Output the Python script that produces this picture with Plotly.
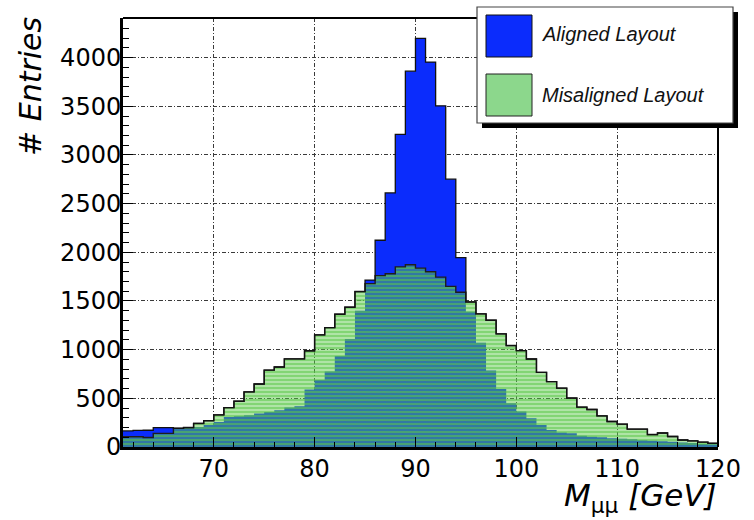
import plotly.graph_objects as go

# Dimuon invariant mass, 1 GeV bins between 61 and 120 GeV
bin_edges = list(range(61, 121))

aligned = [165, 170, 172, 200, 200, 185, 195, 205, 225, 257,
           308, 315, 326, 343, 360, 377, 405, 418, 590, 688,
           775, 935, 1110, 1400, 1715, 2124, 2610, 3211, 3861, 4197,
           3954, 3505, 2751, 1946, 1390, 1070, 785, 595, 450, 365,
           295, 225, 175, 150, 140, 115, 105, 100, 90, 85,
           80, 70, 65, 60, 55, 45, 40, 32, 28]

misaligned = [105, 105, 98, 140, 140, 192, 200, 242, 270, 330,
              404, 470, 566, 647, 790, 822, 905, 905, 988, 1152,
              1226, 1364, 1436, 1597, 1678, 1760, 1780, 1850, 1872, 1838,
              1800, 1745, 1650, 1590, 1490, 1368, 1302, 1162, 1042, 990,
              904, 767, 672, 605, 503, 410, 385, 320, 262, 235,
              184, 184, 128, 144, 108, 72, 63, 50, 38]

x_ticks = [70, 80, 90, 100, 110, 120]
y_ticks = [0, 500, 1000, 1500, 2000, 2500, 3000, 3500, 4000]
legend_labels = ["Aligned Layout", "Misaligned Layout"]

BLUE = "#0b2cfc"
GREEN = "rgb(90,200,72)"
LIGHT_GREEN = "rgb(140,215,140)"

W, H = 754, 520
L, R, T, B = 123, 36, 18, 73
PW, PH = W - L - R, H - T - B


def px(xp):
    return (xp - L) / PW


def py(yp):
    return (T + PH - yp) / PH


def steps(vals):
    return vals + [vals[-1]]


envelope = [max(a, m) for a, m in zip(aligned, misaligned)]

fig = go.Figure()

# aligned histogram: solid blue
fig.add_trace(go.Scatter(
    x=bin_edges, y=steps(aligned), mode="lines",
    line=dict(shape="hv", width=0, color=BLUE),
    fill="tozeroy", fillcolor=BLUE, hoverinfo="skip", showlegend=False))

# misaligned histogram: fine green stipple drawn over the blue
fig.add_trace(go.Scatter(
    x=bin_edges, y=steps(misaligned), mode="lines",
    line=dict(shape="hv", width=1.4, color="#1e1e1e"),
    fill="tozeroy", fillcolor="rgba(0,0,0,0)",
    fillpattern=dict(shape="-", fgcolor=GREEN, fgopacity=0.76,
                     bgcolor="rgba(0,0,0,0)", size=4, solidity=0.82),
    hoverinfo="skip", showlegend=False))

# outer outline of both histograms
fig.add_trace(go.Scatter(
    x=bin_edges, y=steps(envelope), mode="lines",
    line=dict(shape="hv", width=1.3, color="#111111"),
    hoverinfo="skip", showlegend=False))

grid = dict(showgrid=True, gridcolor="#3a3a3a", gridwidth=1,
            griddash="4px,2px,1px,2px")

fig.update_xaxes(
    range=[61, 120], tickvals=x_ticks, ticktext=[str(v) for v in x_ticks],
    ticks="inside", ticklen=10, tickcolor="black", tickwidth=1,
    minor=dict(dtick=2, tick0=60, ticks="inside", ticklen=5, tickcolor="black"),
    showline=True, linecolor="black", linewidth=3, zeroline=False,
    ticklabelstandoff=-2,
    tickfont=dict(family="DejaVu Sans", size=24, color="black"),
    **grid)
fig.update_yaxes(
    range=[0, 4407], tickvals=y_ticks, ticktext=[str(v) for v in y_ticks],
    ticks="inside", ticklen=10, tickcolor="black", tickwidth=1,
    minor=dict(dtick=100, tick0=0, ticks="inside", ticklen=6, tickcolor="black"),
    showline=True, linecolor="black", linewidth=3, zeroline=False,
    ticklabelstandoff=-6,
    tickfont=dict(family="DejaVu Sans", size=24, color="black"),
    **grid)

shapes = [
    # top and right frame
    dict(type="line", xref="paper", yref="paper", x0=0, x1=1, y0=1, y1=1,
         line=dict(color="black", width=2)),
    dict(type="line", xref="paper", yref="paper", x0=1, x1=1, y0=0, y1=1,
         line=dict(color="black", width=2)),
    # legend shadow and box
    dict(type="rect", xref="paper", yref="paper", layer="above",
         x0=px(482), x1=px(738), y0=py(128), y1=py(12),
         fillcolor="black", line=dict(width=0)),
    dict(type="rect", xref="paper", yref="paper", layer="above",
         x0=px(477), x1=px(733), y0=py(123), y1=py(7),
         fillcolor="white", line=dict(color="#444444", width=1.2)),
    dict(type="rect", xref="paper", yref="paper", layer="above",
         x0=px(486), x1=px(532), y0=py(57), y1=py(15),
         fillcolor=BLUE, line=dict(color="#111111", width=1)),
    dict(type="rect", xref="paper", yref="paper", layer="above",
         x0=px(486), x1=px(532), y0=py(116), y1=py(74),
         fillcolor=LIGHT_GREEN, line=dict(color="#222222", width=1)),
]

annotations = [
    dict(text="<i>" + legend_labels[0] + "</i>", xref="paper", yref="paper",
         x=px(540), y=py(34.5), xanchor="left", yanchor="middle", showarrow=False,
         font=dict(family="Liberation Sans", size=20, color="#111111")),
    dict(text="<i>" + legend_labels[1] + "</i>", xref="paper", yref="paper",
         x=px(540), y=py(94.5), xanchor="left", yanchor="middle", showarrow=False,
         font=dict(family="Liberation Sans", size=20, color="#111111")),
    dict(text="<i># Entries</i>", xref="paper", yref="paper",
         x=px(30.5), y=py(15), xanchor="center", yanchor="top",
         textangle=-90, showarrow=False,
         font=dict(family="DejaVu Sans", size=30, color="black")),
    dict(text="<i>M</i><sub>μμ</sub><i> [GeV]</i>", xref="paper", yref="paper",
         x=px(719), y=py(497), xanchor="right", yanchor="middle",
         showarrow=False,
         font=dict(family="DejaVu Sans", size=31, color="black")),
]

fig.update_layout(
    width=W, height=H,
    margin=dict(l=L, r=R, t=T, b=B),
    paper_bgcolor="white", plot_bgcolor="white",
    showlegend=False, shapes=shapes, annotations=annotations)

fig.write_html("out.html")
